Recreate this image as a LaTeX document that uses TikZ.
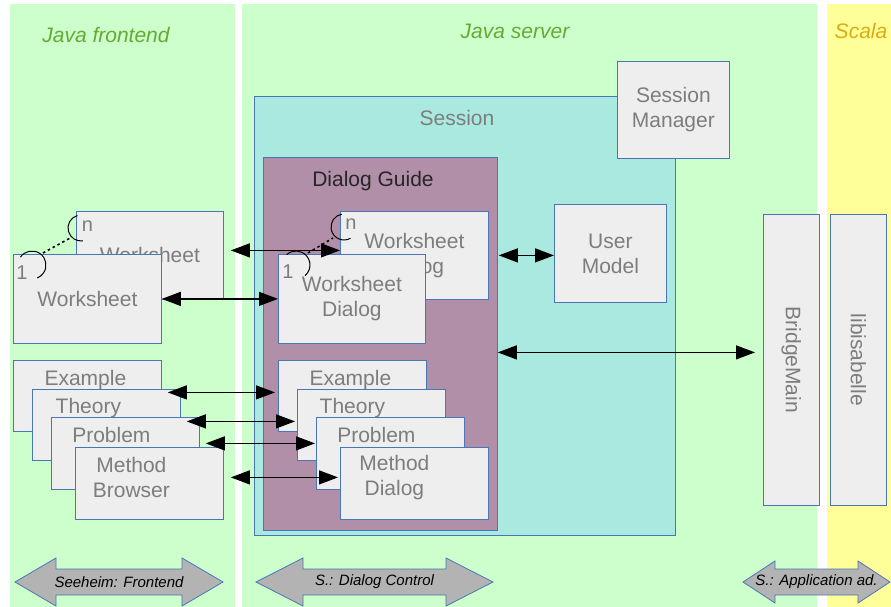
\documentclass[tikz,border=0pt]{standalone}
\usepackage{fontspec}
\usepackage{graphicx}
\setmainfont{Liberation Sans}
\usetikzlibrary{positioning,arrows.meta}

\definecolor{panelgreen}{HTML}{CCFFCC}
\definecolor{panelyellow}{HTML}{FFFF99}
\definecolor{sessioncyan}{HTML}{AAE9E0}
\definecolor{guidemauve}{HTML}{B18FA9}
\definecolor{boxgray}{HTML}{EEEEEE}
\definecolor{boxline}{HTML}{4A76B5}
\definecolor{labelgray}{HTML}{7D7D7D}
\definecolor{javagreen}{HTML}{66AA33}
\definecolor{scalaorange}{HTML}{DDAA11}
\definecolor{arrowgray}{HTML}{B3B3B3}

\newcommand{\boxfont}{\fontsize{21}{25}\selectfont}
% seeheim layer arrow: name, left tip, right tip, head length, head half height, text
\newcommand{\dblarrow}[6]{%
  \draw[blockarrow] (#2,582) -- ++(#4,-#5) -- ++(0,{#5-13}) -- ({#3-#4},569)
    -- ++(0,{13-#5}) -- (#3,582) -- ({#3-#4},{582+#5}) -- ++(0,{13-#5})
    -- ({#2+#4},595) -- ++(0,{#5-13}) -- cycle;
  \node[arrowtext] (#1) at ({(#2+#3)/2},582) {#6};}

\begin{document}
\begin{tikzpicture}[x=1pt,y=-1pt,
  box/.style={draw=boxline, fill=boxgray, line width=0.8pt, anchor=north west,
    inner sep=0pt, font=\boxfont, text=labelgray, align=center},
  plain/.style={inner sep=0pt, font=\boxfont, text=labelgray, align=center},
  tier/.style={inner sep=0pt, font=\boxfont\itshape},
  mult/.style={inner sep=0pt, anchor=base, font=\fontsize{20}{22}\selectfont, text=labelgray},
  markarc/.style={draw=black, line width=1pt},
  dotline/.style={draw=black, line width=1.6pt, dash pattern=on 2.5pt off 3pt},
  link/.style={draw=black, line width=1.2pt,
    {Triangle[length=19pt,width=14pt]}-{Triangle[length=19pt,width=14pt]}},
  blockarrow/.style={draw=boxline, fill=arrowgray, line width=0.8pt},
  arrowtext/.style={inner sep=0pt, font=\fontsize{15}{17}\selectfont\itshape, text=black}]

\useasboundingbox (0,0) rectangle (891,607);
\fill[white] (0,0) rectangle (891,607);

% tiers
\fill[panelgreen] (10,4) rectangle (235,607);
\fill[panelgreen] (242,4) rectangle (817,607);
\fill[panelyellow] (827,4) rectangle (891,607);
\node[tier, text=javagreen] (frontend) at (106,35) {Java frontend};
\node[tier, text=javagreen] (server) at (515,31) {Java server};
\node[tier, text=scalaorange] (scala) at (861,31) {Scala};

% server containers
\node[box, fill=sessioncyan, minimum width=421pt, minimum height=439pt] (session) at (254,96) {};
\node[plain] (sessionlbl) at (457,118) {Session};
\node[box, minimum width=112pt, minimum height=97pt] (manager) at (617,61) {Session\\Manager};
\node[box, fill=guidemauve, minimum width=234pt, minimum height=373pt] (guide) at (263,157) {};
\node[plain, text=black!85] (guidelbl) at (373,181) {Dialog Guide};
\node[box, minimum width=112pt, minimum height=98pt] (usermodel) at (554,204) {User\\Model};

% worksheets 1..n
\node[box, minimum width=147pt, minimum height=88pt] (wsn) at (76,211) {Worksheet};
\node[box, minimum width=148pt, minimum height=89pt] (wsone) at (13,254) {Worksheet};
\node[box, minimum width=148pt, minimum height=88pt] (wsdn) at (340,211) {Worksheet\\Dialog};
\node[box, minimum width=147pt, minimum height=89pt] (wsdone) at (278,254) {Worksheet\\Dialog};

\node[mult] (nfront) at (87.5,231) {n};
\node[mult] (onefront) at (22,279) {1};
\node[mult] (ndlg) at (351,229) {n};
\node[mult] (onedlg) at (288,278) {1};

\draw[markarc] ([shift={(106:13pt)}]81,228) arc[start angle=106, end angle=278, radius=13pt];
\draw[markarc] ([shift={(146:14pt)}]32,265) arc[start angle=146, end angle=-68, radius=14pt];
\draw[markarc] ([shift={(100:13pt)}]344,227) arc[start angle=100, end angle=300, radius=13pt];
\draw[markarc] ([shift={(132:14pt)}]296,265) arc[start angle=132, end angle=-50, radius=14pt];
\coordinate (frontdotA) at (43,253);
\coordinate (frontdotB) at (72,237);
\coordinate (dlgdotA) at (308,253);
\coordinate (dlgdotB) at (333,238);
\draw[dotline] (frontdotA) -- (frontdotB);
\draw[dotline] (dlgdotA) -- (dlgdotB);

% browsers
\node[box, minimum width=148pt, minimum height=71pt] (exf) at (13,360) {};
\node[plain, anchor=base] (exflbl) at ([xshift=-2pt,yshift=-25pt]exf.north) {Example};
\node[box, minimum width=148pt, minimum height=71pt] (thf) at (32,389) {};
\node[plain, anchor=base] (thflbl) at ([xshift=-18pt,yshift=-24pt]thf.north) {Theory};
\node[box, minimum width=148pt, minimum height=72pt] (prf) at (51,417) {};
\node[plain, anchor=base] (prflbl) at ([xshift=-14pt,yshift=-25pt]prf.north) {Problem};
\node[box, minimum width=148pt, minimum height=72pt] (mbf) at (75,447) {};
\node[plain] (mbflbl) at ([xshift=-18pt,yshift=6pt]mbf.center) {Method\\Browser};

% dialogs
\node[box, minimum width=148pt, minimum height=71pt] (exd) at (278,360) {};
\node[plain, anchor=base] (exdlbl) at ([xshift=-2pt,yshift=-25pt]exd.north) {Example};
\node[box, minimum width=148pt, minimum height=71pt] (thd) at (297,389) {};
\node[plain, anchor=base] (thdlbl) at ([xshift=-19pt,yshift=-24pt]thd.north) {Theory};
\node[box, minimum width=148pt, minimum height=72pt] (prd) at (316,417) {};
\node[plain, anchor=base] (prdlbl) at ([xshift=-14pt,yshift=-25pt]prd.north) {Problem};
\node[box, minimum width=148pt, minimum height=72pt] (mdd) at (340,447) {};
\node[plain] (mddlbl) at ([xshift=-20pt,yshift=6pt]mdd.center) {Method\\Dialog};

% bridge to isabelle
\node[box, minimum width=56pt, minimum height=291pt] (bridge) at (763,214) {\rotatebox{-90}{BridgeMain}};
\node[box, minimum width=56pt, minimum height=291pt] (libisa) at (830,214) {\rotatebox{-90}{libisabelle}};

% connections
\draw[link, shorten <=7pt] ([yshift=5pt]wsn.east) -- ([yshift=5pt]wsdn.west);
\draw[link] (wsone.east) -- (wsone.east -| wsdone.west);
\draw[link, shorten <=10pt] (wsdn.east) -- (wsdn.east -| usermodel.west);
\draw[link, shorten >=8pt] ([yshift=-8.5pt]guide.east) -- ([yshift=-8.5pt]guide.east -| bridge.west);
\draw[link, shorten <=6pt, shorten >=3pt] ([yshift=3.5pt]exf.east) -- ([yshift=3.5pt]exf.east -| exd.west);
\draw[link, shorten <=6pt, shorten >=2pt] ([yshift=3.5pt]thf.east) -- ([yshift=3.5pt]thf.east -| thd.west);
\draw[link, shorten <=6pt, shorten >=1pt] ([yshift=10pt]prf.east) -- ([yshift=10pt]prf.east -| prd.west);
\draw[link, shorten <=7pt, shorten >=2pt] ([yshift=6pt]mbf.east) -- ([yshift=6pt]mbf.east -| mdd.west);

% seeheim layers
\dblarrow{seeheim}{15}{223}{41}{24}{Seeheim: Frontend}
\dblarrow{dlgcontrol}{256}{493}{47}{24}{S.: Dialog Control}
\dblarrow{appadapter}{743}{890}{32}{21}{S.: Application ad.}
\end{tikzpicture}
\end{document}
